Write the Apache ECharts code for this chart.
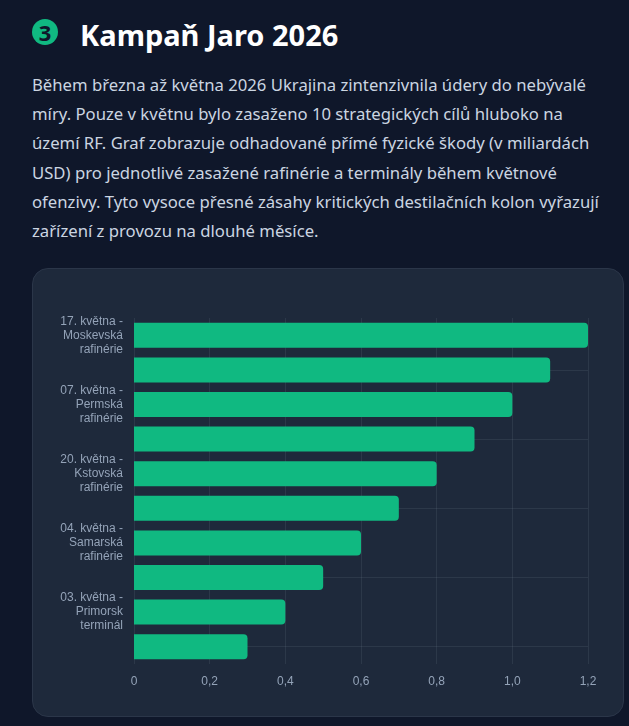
<!DOCTYPE html>
<html lang="cs">
<head>
<meta charset="utf-8">
<title>Kampaň Jaro 2026</title>
<script src="https://cdn.jsdelivr.net/npm/echarts@6/dist/echarts.min.js"></script>
<style>
  html, body {
    margin: 0;
    padding: 0;
    width: 629px;
    height: 726px;
    background: #0f172a;
    overflow: hidden;
  }
  .badge {
    position: absolute;
    left: 32px;
    top: 19px;
    width: 26px;
    height: 26px;
    border-radius: 50%;
    background: #10b981;
    color: #0f172a;
    font-family: "Noto Sans", "Open Sans", sans-serif;
    font-weight: 700;
    font-size: 22px;
    line-height: 26px;
    text-align: center;
  }
  h2 {
    position: absolute;
    left: 80px;
    top: 15px;
    margin: 0;
    color: #ffffff;
    font-family: "Noto Sans", "Open Sans", sans-serif;
    font-size: 29px;
    line-height: 40px;
    font-weight: 700;
  }
  .text {
    position: absolute;
    left: 32px;
    top: 70px;
    width: 580px;
    margin: 0;
    color: #cbd5e1;
    font-family: "Noto Sans", "Open Sans", sans-serif;
    font-size: 16.7px;
    line-height: 29.2px;
  }
  .card {
    position: absolute;
    left: 32px;
    top: 268px;
    width: 592px;
    height: 449px;
    box-sizing: border-box;
    background: #1e293b;
    border: 1px solid #2b3649;
    border-radius: 16px;
  }
  #chart {
    position: absolute;
    left: 0;
    top: 0;
    width: 590px;
    height: 447px;
  }
</style>
</head>
<body>
<div class="badge">3</div>
<h2>Kampaň Jaro 2026</h2>
<p class="text">Během března až května 2026 Ukrajina zintenzivnila údery do nebývalé míry. Pouze v květnu bylo zasaženo 10 strategických cílů hluboko na území RF. Graf zobrazuje odhadované přímé fyzické škody (v miliardách USD) pro jednotlivé zasažené rafinérie a terminály během květnové ofenzivy. Tyto vysoce přesné zásahy kritických destilačních kolon vyřazují zařízení z provozu na dlouhé měsíce.</p>
<div class="card"><div id="chart"></div></div>
<script>
// cíle shora dolů (každý druhý popisek graf skryje)
var targets = [
	"17. května -\nMoskevská\nrafinérie",
	"Cíl 2",
	"07. května -\nPermská\nrafinérie",
	"Cíl 4",
	"20. května -\nKstovská\nrafinérie",
	"Cíl 6",
	"04. května -\nSamarská\nrafinérie",
	"Cíl 8",
	"03. května -\nPrimorsk\nterminál",
	"Cíl 10"
];
// škody v mld. USD
var damage = [1.2, 1.1, 1.0, 0.9, 0.8, 0.7, 0.6, 0.5, 0.4, 0.3];
var xTicks = { min: 0, max: 1.2, step: 0.2 };

var gridColor = "rgba(148, 163, 184, 0.12)";
var labelColor = "#94a3b8";

var chart = echarts.init(document.getElementById("chart"));
chart.setOption({
	animation: false,
	grid: {
		left: 101,
		right: 35,
		top: 49,
		bottom: 52
	},
	xAxis: {
		type: "value",
		min: xTicks.min,
		max: xTicks.max,
		interval: xTicks.step,
		axisLine: { show: false },
		axisTick: { show: false },
		axisLabel: {
			color: labelColor,
			fontSize: 12,
			fontFamily: "Liberation Sans, Arial, sans-serif",
			margin: 12,
			formatter: function(v) {
				return v === 0 ? "0" : v.toFixed(1).replace(".", ",");
			}
		},
		splitLine: { lineStyle: { color: gridColor, width: 1 } }
	},
	yAxis: {
		type: "category",
		data: targets,
		inverse: true,
		axisLine: { show: false },
		axisTick: { show: false },
		axisLabel: {
			interval: 1,
			color: labelColor,
			fontSize: 12,
			lineHeight: 14,
			margin: 11,
			fontFamily: "Liberation Sans, Arial, sans-serif"
		},
		splitLine: {
			show: true,
			alignWithLabel: true,
			interval: function(i) { return i % 2 === 1; },
			lineStyle: { color: gridColor, width: 1 }
		}
	},
	series: [{
		type: "bar",
		data: damage,
		barWidth: 25,
		itemStyle: {
			color: "#10b981",
			borderRadius: [0, 4, 4, 0]
		}
	}]
});
</script>
</body>
</html>
